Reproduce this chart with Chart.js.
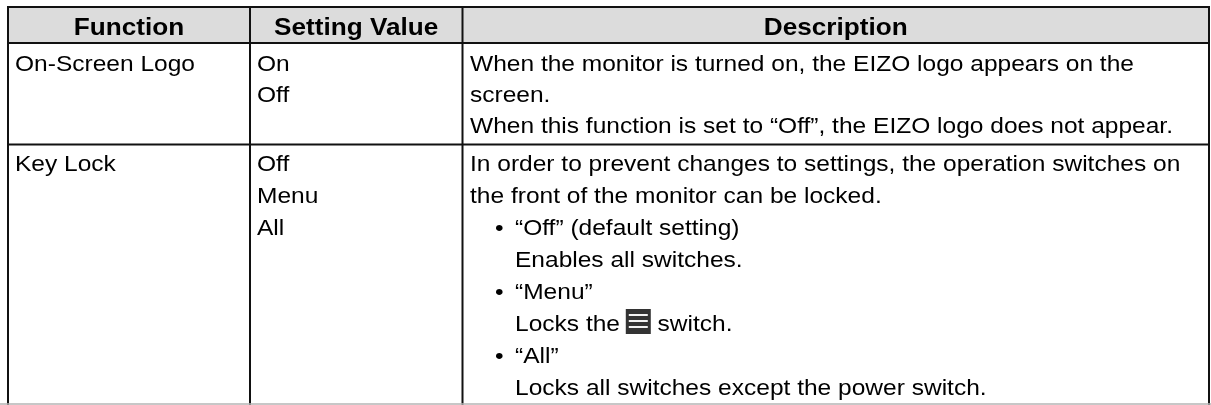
<!DOCTYPE html>
<html><head><meta charset="utf-8">
<script src="https://cdn.jsdelivr.net/npm/chart.js@4.4.0/dist/chart.umd.min.js"></script>
<style>html,body{margin:0;padding:0;background:#fff;}canvas{display:block}</style>
</head><body>
<canvas id="c" width="1211" height="405"></canvas>
<script>
// ---- table content ----
const headers = ["Function", "Setting Value", "Description"];
const functions = ["On-Screen Logo", "Key Lock"];
const settingValues = [["On", "Off"], ["Off", "Menu", "All"]];
// "• " = bullet line, "\t" = indented continuation, "{menu}" = menu switch icon
const descriptions = [
  ["When the monitor is turned on, the EIZO logo appears on the",
   "screen.",
   "When this function is set to “Off”, the EIZO logo does not appear."],
  ["In order to prevent changes to settings, the operation switches on",
   "the front of the monitor can be locked.",
   "• “Off” (default setting)",
   "\tEnables all switches.",
   "• “Menu”",
   "\tLocks the {menu} switch.",
   "• “All”",
   "\tLocks all switches except the power switch."]
];

const tablePlugin = {
  id: 'tableDraw',
  afterDraw(chart) {
    const ctx = chart.ctx;
    const W = chart.width;
    const colX = [8, 250, 462.5, 1209];
    const topY = 7, headY = 43;
    const rowBottoms = [144.5, 460];
    const rowFirstBase = [71, 171];
    const rowStep = [31, 32];
    const SX = 1.09;
    const REG = '22.5px "Liberation Sans", Arial, sans-serif';
    const BOLD = 'bold 24px "Liberation Sans", Arial, sans-serif';
    const ink = '#000';

    function txt(s, x, y, font, align) {
      ctx.save();
      ctx.font = font;
      ctx.fillStyle = ink;
      ctx.textBaseline = 'alphabetic';
      const w = ctx.measureText(s).width * SX;
      let x0 = x;
      if (align === 'center') x0 = x - w / 2;
      ctx.translate(x0, y);
      ctx.scale(SX, 1);
      ctx.textAlign = 'left';
      ctx.fillText(s, 0, 0);
      ctx.restore();
      return w;
    }

    ctx.save();
    ctx.fillStyle = '#fff';
    ctx.fillRect(0, 0, W, chart.height);
    // header background
    ctx.fillStyle = '#dcdcdc';
    ctx.fillRect(colX[0], topY, colX[3] - colX[0], headY - topY);
    // header text
    headers.forEach((h, i) => txt(h, (colX[i] + colX[i + 1]) / 2, 34.5, BOLD, 'center'));

    // rows
    functions.forEach((f, r) => {
      const base = rowFirstBase[r], step = rowStep[r];
      txt(f, colX[0] + 7, base, REG);
      settingValues[r].forEach((v, k) => txt(v, colX[1] + 7, base + k * step, REG));
      descriptions[r].forEach((line, k) => {
        const y = base + k * step;
        let x = colX[2] + 7.5;
        if (line.startsWith('• ')) {
          txt('•', x + 25, y, REG);
          x += 45; line = line.slice(2);
        } else if (line.startsWith('\t')) {
          x += 45; line = line.slice(1);
        }
        const parts = line.split('{menu}');
        parts.forEach((p, pi) => {
          x += txt(p, x, y, REG);
          if (pi < parts.length - 1) {
            // menu switch icon
            const ix = x - 1, iy = y - 22, s = 25;
            ctx.fillStyle = '#333';
            ctx.fillRect(ix, iy, s, s);
            ctx.fillStyle = '#f2f2f2';
            [6, 12, 18].forEach(dy => ctx.fillRect(ix + 3, iy + dy - 1, s - 6, 2));
            x = ix + s;
          }
        });
      });
    });

    // grid lines
    ctx.strokeStyle = '#111';
    ctx.lineWidth = 2;
    ctx.beginPath();
    ctx.moveTo(colX[0] - 1, topY); ctx.lineTo(colX[3] + 1, topY);
    ctx.moveTo(colX[0], headY); ctx.lineTo(colX[3], headY);
    ctx.moveTo(colX[0], rowBottoms[0]); ctx.lineTo(colX[3], rowBottoms[0]);
    colX.forEach(x => { ctx.moveTo(x, topY); ctx.lineTo(x, chart.height); });
    ctx.stroke();
    // page edge at bottom
    ctx.strokeStyle = '#b5b5b5';
    ctx.lineWidth = 1.5;
    ctx.beginPath();
    ctx.moveTo(0, 404); ctx.lineTo(W, 404);
    ctx.stroke();
    ctx.restore();
  }
};

new Chart(document.getElementById('c'), {
  type: 'bar',
  data: { labels: functions, datasets: [{ data: settingValues.map(v => v.length), backgroundColor: 'rgba(0,0,0,0)' }] },
  options: {
    responsive: false,
    devicePixelRatio: 1,
    animation: false,
    events: [],
    layout: { padding: 0 },
    scales: { x: { display: false }, y: { display: false } },
    plugins: { legend: { display: false }, tooltip: { enabled: false } }
  },
  plugins: [tablePlugin]
});
</script>
</body></html>
